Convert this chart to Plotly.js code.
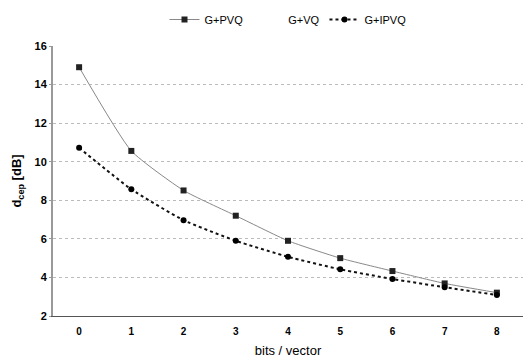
<!DOCTYPE html>
<html>
<head>
<meta charset="utf-8">
<script src="https://cdn.plot.ly/plotly-3.0.1.min.js"></script>
<style>html,body{margin:0;padding:0;background:#fff}#chart{width:524px;height:358px}</style>
</head>
<body>
<div id="chart"></div>
<script>
const bits = [0, 1, 2, 3, 4, 5, 6, 7, 8];
const gPVQ = [14.9, 10.56, 8.51, 7.2, 5.9, 5.0, 4.33, 3.69, 3.21];
const gVQ = [null, null, null, null, null, null, null, null, null];
const gIPVQ = [10.72, 8.57, 6.97, 5.9, 5.07, 4.42, 3.92, 3.49, 3.09];
const yTicks = [2, 4, 6, 8, 10, 12, 14, 16];

const font = {family: 'Liberation Sans, Arial, sans-serif', color: '#000'};

const traces = [
  {x: bits, y: gPVQ, name: 'G+PVQ', mode: 'lines+markers',
   line: {color: '#888', width: 1, shape: 'spline', smoothing: 0.5},
   marker: {symbol: 'square', size: 6, color: '#222'}},
  {x: bits, y: gVQ, name: 'G+VQ', mode: 'lines',
   line: {color: '#fff', width: 1}},
  {x: bits, y: gIPVQ, name: 'G+IPVQ', mode: 'lines+markers',
   line: {color: '#111', width: 2, dash: 'dot', shape: 'spline', smoothing: 0.5},
   marker: {symbol: 'circle', size: 6, color: '#000'}}
];

const layout = {
  width: 524, height: 358,
  margin: {l: 53, r: 1, t: 46, b: 42},
  paper_bgcolor: '#fff', plot_bgcolor: '#fff',
  font: Object.assign({size: 11}, font),
  showlegend: true,
  legend: {orientation: 'h', x: 0.5, xanchor: 'center', y: 0.905, yanchor: 'bottom',
    yref: 'container', font: Object.assign({size: 11}, font), traceorder: 'normal'},
  xaxis: {
    range: [-0.5, 8.5], tickvals: bits, ticktext: bits.map(String),
    showgrid: false, zeroline: false, showline: true, linecolor: '#555', linewidth: 1,
    ticks: '', ticklabelstandoff: 6, tickfont: Object.assign({size: 10, weight: 'bold'}, font),
    title: {text: 'bits / vector', font: Object.assign({size: 13}, font), standoff: 10}
  },
  yaxis: {
    range: [2, 16], tickvals: yTicks, ticktext: yTicks.map(String),
    showgrid: true, gridcolor: '#bbb', griddash: 'dot', gridwidth: 1,
    zeroline: false, showline: true, linecolor: '#999', linewidth: 2,
    ticks: 'outside', ticklen: 2, tickcolor: '#999',
    tickfont: Object.assign({size: 11, weight: 'bold'}, font),
    title: {text: 'd<sub>cep</sub> [dB]', font: Object.assign({size: 13, weight: 'bold'}, font), standoff: 10}
  }
};

Plotly.newPlot('chart', traces, layout, {displayModeBar: false, staticPlot: true});
</script>
</body>
</html>
